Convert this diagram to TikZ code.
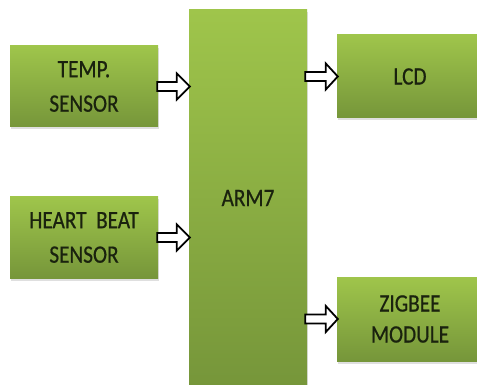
\documentclass[tikz,border=0pt]{standalone}
\usepackage{fontspec}
\setmainfont{Carlito}
\newfontfamily\boxfont[FakeStretch=0.85,FakeBold=0.6]{Carlito}
\usetikzlibrary{calc,shadows}
\definecolor{gtop}{HTML}{9FC54B}
\definecolor{gbot}{HTML}{76963A}
\definecolor{txt}{HTML}{1A220E}
\tikzset{
  box/.style={rectangle, inner sep=0pt, top color=gtop, bottom color=gbot,
    drop shadow={shadow xshift=1pt, shadow yshift=-2.5pt, opacity=0.25},
    text=txt, align=center, font=\boxfont\fontsize{25}{34.5}\selectfont},
  barrowline/.style={draw=black, line width=1.8pt, fill=white, line join=miter}
}
\begin{document}
\begin{tikzpicture}[x=1pt,y=-1pt]
\clip (0,0) rectangle (477,385);
\fill[white] (0,0) rectangle (477,385);
\node[box, minimum width=148pt, minimum height=81pt] (temp) at (84,86.5) {TEMP.\\SENSOR};
\node[box, minimum width=148pt, minimum height=81pt] (heart) at (84,237.5) {HEART\ \ BEAT\\SENSOR};
\node[box, minimum width=118pt, minimum height=376pt] (arm) at (248,198) {ARM7};
\node[box, minimum width=146pt, minimum height=83pt] (lcd) at (410,76.5) {LCD};
\node[box, minimum width=146pt, minimum height=84pt, font=\boxfont\fontsize{25}{31}\selectfont] (zig) at (410,319) {ZIGBEE\\MODULE};
% block arrows
\draw[barrowline] let \p1=(temp.east), \p2=(arm.west) in
  (\x1-1pt,\y1+4.5pt) -- (\x2-12pt,\y1+4.5pt) -- (\x2-12pt,\y1+13pt) -- (\x2+1pt,\y1) --
  (\x2-12pt,\y1-13pt) -- (\x2-12pt,\y1-4.5pt) -- (\x1-1pt,\y1-4.5pt) -- cycle;
\draw[barrowline] let \p1=(heart.east), \p2=(arm.west) in
  (\x1-1pt,\y1+4.5pt) -- (\x2-12pt,\y1+4.5pt) -- (\x2-12pt,\y1+13pt) -- (\x2+1pt,\y1) --
  (\x2-12pt,\y1-13pt) -- (\x2-12pt,\y1-4.5pt) -- (\x1-1pt,\y1-4.5pt) -- cycle;
\draw[barrowline] let \p1=(arm.east), \p2=(lcd.west) in
  (\x1-2pt,\y2+4.5pt) -- (\x2-11pt,\y2+4.5pt) -- (\x2-11pt,\y2+13pt) -- (\x2+1pt,\y2) --
  (\x2-11pt,\y2-13pt) -- (\x2-11pt,\y2-4.5pt) -- (\x1-2pt,\y2-4.5pt) -- cycle;
\draw[barrowline] let \p1=(arm.east), \p2=(zig.west) in
  (\x1-2pt,\y2+4.5pt) -- (\x2-11pt,\y2+4.5pt) -- (\x2-11pt,\y2+13pt) -- (\x2+1pt,\y2) --
  (\x2-11pt,\y2-13pt) -- (\x2-11pt,\y2-4.5pt) -- (\x1-2pt,\y2-4.5pt) -- cycle;
\end{tikzpicture}
\end{document}
